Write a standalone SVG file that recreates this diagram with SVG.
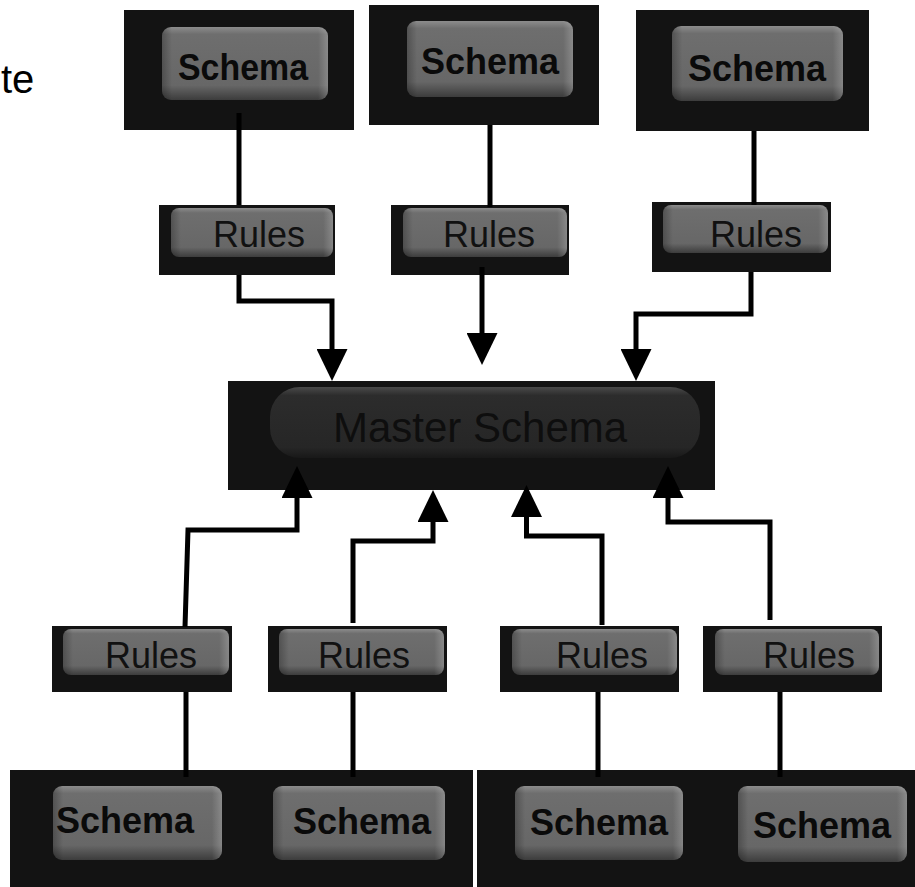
<svg xmlns="http://www.w3.org/2000/svg" width="915" height="887" viewBox="0 0 915 887">
<defs>
<linearGradient id="btn" x1="0" y1="0" x2="0" y2="1">
<stop offset="0" stop-color="#8c8c8c"/>
<stop offset="0.1" stop-color="#6e6e6e"/>
<stop offset="0.8" stop-color="#676767"/>
<stop offset="1" stop-color="#3c3c3c"/>
</linearGradient>
<linearGradient id="btnh" x1="0" y1="0" x2="1" y2="0">
<stop offset="0" stop-color="#000" stop-opacity="0.25"/>
<stop offset="0.06" stop-color="#000" stop-opacity="0"/>
<stop offset="0.94" stop-color="#fff" stop-opacity="0"/>
<stop offset="1" stop-color="#fff" stop-opacity="0.2"/>
</linearGradient>
<linearGradient id="mbtn" x1="0" y1="0" x2="0" y2="1">
<stop offset="0" stop-color="#4a4a4a"/>
<stop offset="0.12" stop-color="#2c2c2c"/>
<stop offset="0.85" stop-color="#262626"/>
<stop offset="1" stop-color="#181818"/>
</linearGradient>
<marker id="ah" viewBox="0 0 32 31" refX="0" refY="15.5" markerWidth="32" markerHeight="31" markerUnits="userSpaceOnUse" orient="auto">
<path d="M0,0 L32,15.5 L0,31 z" fill="#000"/>
</marker>
</defs>
<style>
.box{fill:#131313}
.btn{fill:url(#btn)}
.bh{fill:url(#btnh)}
.sch{font-family:"Liberation Sans",Arial,sans-serif;font-weight:bold;font-size:36px;fill:#0a0a0a}
.rul{font-family:"Liberation Sans",Arial,sans-serif;font-size:36px;fill:#111}
.con{fill:none;stroke:#000;stroke-width:5}
.arr{fill:none;stroke:#000;stroke-width:5;marker-end:url(#ah)}
</style>
<rect width="915" height="887" fill="#fff"/>
<text x="1" y="93" font-family="Liberation Sans, Arial, sans-serif" font-size="40" fill="#000">te</text>

<g id="schema-top-1">
<rect class="box" x="124" y="10" width="230" height="120"/>
<rect class="btn" x="162" y="27" width="166" height="73" rx="9"/>
<rect class="bh" x="162" y="27" width="166" height="73" rx="9"/>
<text class="sch" x="178" y="80" textLength="130" lengthAdjust="spacingAndGlyphs">Schema</text>
</g>
<g id="schema-top-2">
<rect class="box" x="369" y="5" width="230" height="120"/>
<rect class="btn" x="407" y="21" width="166" height="76" rx="9"/>
<rect class="bh" x="407" y="21" width="166" height="76" rx="9"/>
<text class="sch" x="421" y="74">Schema</text>
</g>
<g id="schema-top-3">
<rect class="box" x="636" y="10" width="233" height="121"/>
<rect class="btn" x="672" y="26" width="171" height="75" rx="9"/>
<rect class="bh" x="672" y="26" width="171" height="75" rx="9"/>
<text class="sch" x="688" y="81">Schema</text>
</g>

<g id="rules-top-1">
<rect class="box" x="159" y="205" width="176" height="70"/>
<rect class="btn" x="171" y="208" width="162" height="49" rx="8"/>
<rect class="bh" x="171" y="208" width="162" height="49" rx="8"/>
<text class="rul" x="213" y="247">Rules</text>
</g>
<g id="rules-top-2">
<rect class="box" x="391" y="205" width="178" height="70"/>
<rect class="btn" x="403" y="208" width="164" height="49" rx="8"/>
<rect class="bh" x="403" y="208" width="164" height="49" rx="8"/>
<text class="rul" x="443" y="247">Rules</text>
</g>
<g id="rules-top-3">
<rect class="box" x="652" y="202" width="179" height="70"/>
<rect class="btn" x="663" y="205" width="165" height="48" rx="8"/>
<rect class="bh" x="663" y="205" width="165" height="48" rx="8"/>
<text class="rul" x="710" y="247">Rules</text>
</g>

<g id="master-schema">
<rect class="box" x="228" y="381" width="487" height="109"/>
<rect x="270" y="387" width="430" height="71" rx="30" fill="url(#mbtn)"/>
<text x="333" y="442" font-family="Liberation Sans, Arial, sans-serif" font-size="42" fill="#0e0e0e">Master Schema</text>
</g>

<g id="rules-bottom-1">
<rect class="box" x="52" y="626" width="180" height="66"/>
<rect class="btn" x="63" y="629" width="166" height="46" rx="8"/>
<rect class="bh" x="63" y="629" width="166" height="46" rx="8"/>
<text class="rul" x="105" y="668">Rules</text>
</g>
<g id="rules-bottom-2">
<rect class="box" x="268" y="626" width="179" height="66"/>
<rect class="btn" x="279" y="629" width="165" height="46" rx="8"/>
<rect class="bh" x="279" y="629" width="165" height="46" rx="8"/>
<text class="rul" x="318" y="668">Rules</text>
</g>
<g id="rules-bottom-3">
<rect class="box" x="500" y="626" width="179" height="66"/>
<rect class="btn" x="512" y="629" width="165" height="46" rx="8"/>
<rect class="bh" x="512" y="629" width="165" height="46" rx="8"/>
<text class="rul" x="556" y="668">Rules</text>
</g>
<g id="rules-bottom-4">
<rect class="box" x="703" y="626" width="179" height="66"/>
<rect class="btn" x="715" y="629" width="164" height="46" rx="8"/>
<rect class="bh" x="715" y="629" width="164" height="46" rx="8"/>
<text class="rul" x="763" y="668">Rules</text>
</g>

<g id="schema-bottom-group-left">
<rect class="box" x="10" y="770" width="463" height="117"/>
</g>
<g id="schema-bottom-group-right">
<rect class="box" x="477" y="770" width="438" height="117"/>
</g>
<g id="schema-bottom-1">
<rect class="btn" x="53" y="786" width="169" height="74" rx="9"/>
<rect class="bh" x="53" y="786" width="169" height="74" rx="9"/>
<text class="sch" x="56" y="833">Schema</text>
</g>
<g id="schema-bottom-2">
<rect class="btn" x="273" y="786" width="172" height="74" rx="9"/>
<rect class="bh" x="273" y="786" width="172" height="74" rx="9"/>
<text class="sch" x="293" y="834">Schema</text>
</g>
<g id="schema-bottom-3">
<rect class="btn" x="515" y="786" width="168" height="74" rx="9"/>
<rect class="bh" x="515" y="786" width="168" height="74" rx="9"/>
<text class="sch" x="530" y="835">Schema</text>
</g>
<g id="schema-bottom-4">
<rect class="btn" x="738" y="786" width="169" height="76" rx="9"/>
<rect class="bh" x="738" y="786" width="169" height="76" rx="9"/>
<text class="sch" x="753" y="838">Schema</text>
</g>

<g id="connectors">
<path class="con" d="M239,113 V205"/>
<path class="con" d="M490,125 V207"/>
<path class="con" d="M754,131 V205"/>
<path class="arr" d="M239,275 V301 H332 V349"/>
<path class="arr" d="M482,267 V333"/>
<path class="arr" d="M751,272 V314 H636 V349"/>
<path class="arr" d="M185,627 L188,530 H297 V498"/>
<path class="arr" d="M353,623 V541 H433 V522"/>
<path class="arr" d="M602,625 V536 H526.5 V517"/>
<path class="arr" d="M770,620 V522 H668 V498"/>
<path class="con" d="M186,692 V777"/>
<path class="con" d="M353,692 V777"/>
<path class="con" d="M598,692 V777"/>
<path class="con" d="M780,692 V777"/>
</g>
</svg>
